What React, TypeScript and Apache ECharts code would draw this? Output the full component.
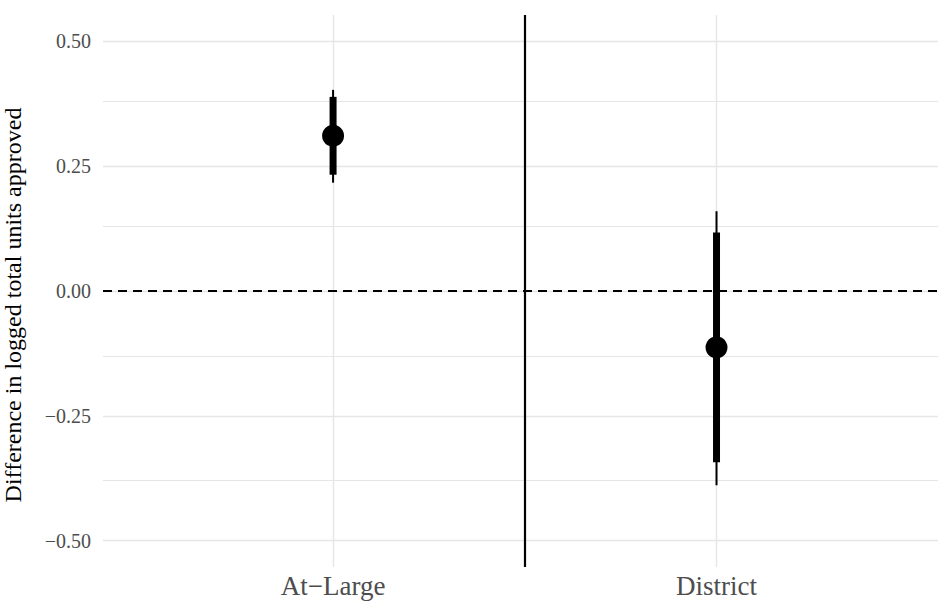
import React, { useEffect, useRef } from "react";
import * as echarts from "echarts";

const categories = ["At−Large", "District"];
const xPositions = [1, 2];
const estimates = [0.311, -0.113];
const innerLow = [0.233, -0.343];
const innerHigh = [0.389, 0.117];
const outerLow = [0.217, -0.389];
const outerHigh = [0.403, 0.16];
const yMajorTicks = [-0.5, -0.25, 0, 0.25, 0.5];
const yMinorTicks = [-0.375, -0.125, 0.125, 0.375];
const separatorX = 1.5;
const referenceY = 0;

const FONT = "'Liberation Serif', 'DejaVu Serif', serif";

function fmt(v: number): string {
  const s = Math.abs(v).toFixed(2);
  return v < -1e-9 ? "−" + s : s;
}

export default function App() {
  const ref = useRef<HTMLDivElement>(null);
  useEffect(() => {
    document.body.style.margin = "0";
    if (!ref.current) return;
    const chart = echarts.init(ref.current, undefined, { renderer: "svg" });

    const gridColor = "#e6e6e6";
    const gridLines: any[] = [];
    yMajorTicks.forEach((v) =>
      gridLines.push({ yAxis: v, lineStyle: { color: gridColor, width: 1.4, type: "solid" } })
    );
    yMinorTicks.forEach((v) =>
      gridLines.push({ yAxis: v, lineStyle: { color: gridColor, width: 1.1, type: "solid" } })
    );
    xPositions.forEach((v) =>
      gridLines.push({ xAxis: v, lineStyle: { color: gridColor, width: 1.4, type: "solid" } })
    );

    const intervalSeries = (low: number[], high: number[], width: number, z: number) => ({
      type: "custom",
      z,
      silent: true,
      data: xPositions.map((x, i) => [x, low[i], high[i]]),
      encode: { x: 0, y: [1, 2] },
      renderItem: (params: any, api: any) => {
        const x = api.value(0);
        const a = api.coord([x, api.value(1)]);
        const b = api.coord([x, api.value(2)]);
        return {
          type: "line",
          shape: { x1: a[0], y1: a[1], x2: b[0], y2: b[1] },
          style: { stroke: "#000", lineWidth: width, lineCap: "butt" },
        };
      },
    });

    chart.setOption({
      animation: false,
      grid: {
        left: 103,
        right: 0,
        top: 15,
        bottom: 34,
        containLabel: false,
        outerBoundsMode: "none",
      },
      xAxis: {
        type: "value",
        min: 0.4,
        max: 2.5776,
        axisLine: { show: false },
        axisTick: { show: false },
        splitLine: { show: false },
        axisLabel: {
          customValues: xPositions,
          formatter: (v: number) => {
            const i = xPositions.indexOf(v);
            return i >= 0 ? categories[i] : "";
          },
          fontFamily: FONT,
          fontSize: 27,
          color: "#4d4d4d",
          margin: 5,
        },
      },
      yAxis: {
        type: "value",
        min: -0.553,
        max: 0.553,
        name: "Difference in logged total units approved",
        nameLocation: "middle",
        nameGap: 78,
        nameTextStyle: { fontFamily: FONT, fontSize: 24, color: "#000", padding: [0, 28, 0, 0] },
        axisLine: { show: false },
        axisTick: { show: false },
        splitLine: { show: false },
        axisLabel: {
          customValues: yMajorTicks,
          formatter: (v: number) => fmt(v),
          fontFamily: FONT,
          fontSize: 20,
          color: "#4d4d4d",
          margin: 12,
        },
      },
      series: [
        {
          type: "line",
          data: [],
          z: 1,
          silent: true,
          markLine: {
            silent: true,
            symbol: "none",
            label: { show: false },
            data: gridLines,
          },
        },
        {
          type: "line",
          data: [],
          z: 3,
          silent: true,
          markLine: {
            silent: true,
            symbol: "none",
            label: { show: false },
            data: [
              { yAxis: referenceY, lineStyle: { color: "#000", width: 2, type: [9, 6] } },
              { xAxis: separatorX, lineStyle: { color: "#000", width: 2.2, type: "solid" } },
            ],
          },
        },
        intervalSeries(outerLow, outerHigh, 2, 5),
        intervalSeries(innerLow, innerHigh, 7, 6),
        {
          type: "scatter",
          z: 7,
          symbol: "circle",
          symbolSize: 22,
          itemStyle: { color: "#000", opacity: 1 },
          data: xPositions.map((x, i) => [x, estimates[i]]),
        },
      ],
    });
    return () => chart.dispose();
  }, []);
  return <div ref={ref} style={{ width: 938, height: 601 }} />;
}
